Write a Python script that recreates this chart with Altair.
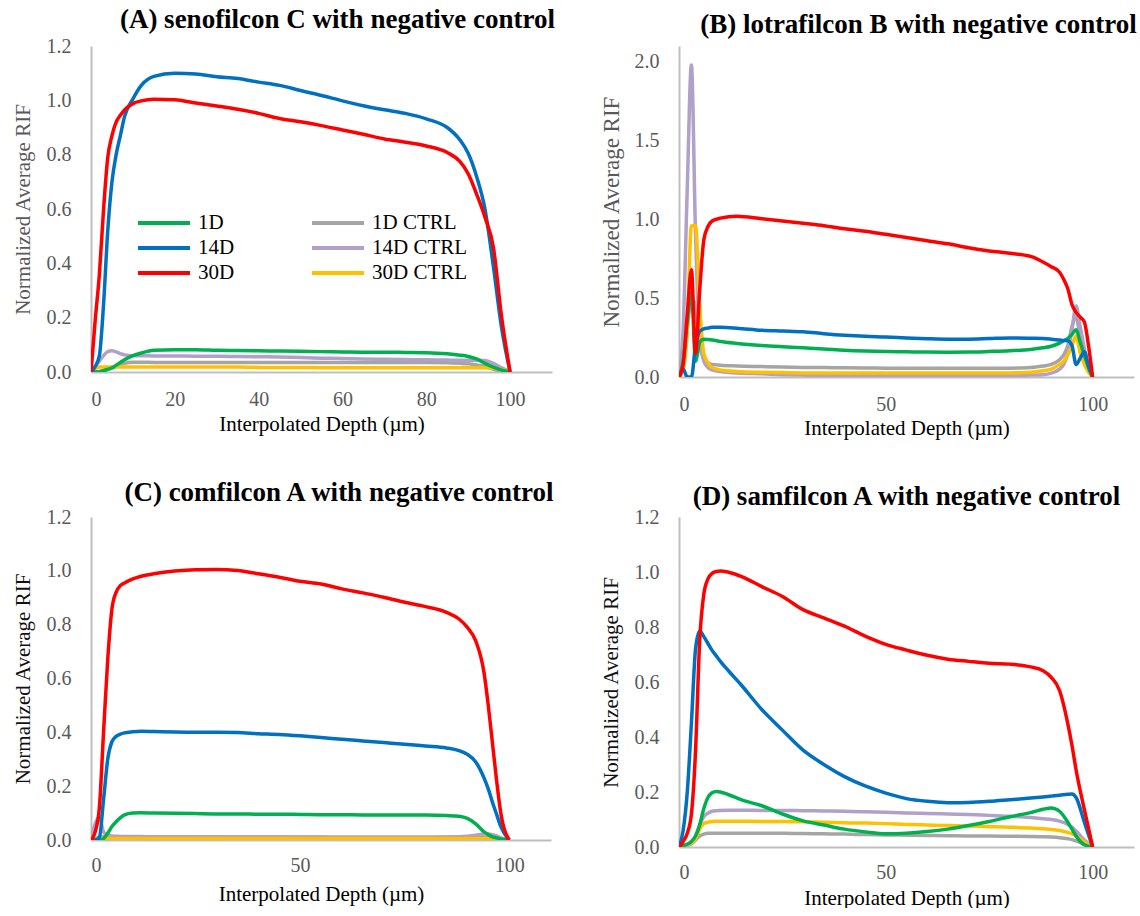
import altair as alt
import pandas as pd

FONT = "Liberation Serif, Times New Roman, serif"

# ---- series names / colours -------------------------------------------------
LEGEND_ORDER = ["1D", "14D", "30D", "1D CTRL", "14D CTRL", "30D CTRL"]
LEGEND_COLORS = ["#00B050", "#0070C0", "#FF0000", "#A5A5A5", "#B1A0C7", "#FFC000"]
DRAW_ORDER = ["1D CTRL", "14D CTRL", "30D CTRL", "1D", "14D", "30D"]

# ---- (A) senofilcon C --------------------------------------------------------
A_DEPTH = [0, 1, 2, 3, 4, 5, 6, 7, 8, 10, 12, 15, 20, 25, 30, 35, 40, 45, 50, 55,
           60, 65, 70, 75, 80, 85, 88, 90, 92, 94, 96, 98, 100]
A_1D = [0, 0, 0, 0.005, 0.01, 0.015, 0.025, 0.035, 0.045, 0.06, 0.07, 0.08, 0.082,
        0.082, 0.08, 0.079, 0.078, 0.077, 0.076, 0.075, 0.074, 0.073, 0.073, 0.072,
        0.071, 0.067, 0.062, 0.057, 0.048, 0.032, 0.018, 0.007, 0]
A_14D = [0, 0.02, 0.06, 0.25, 0.52, 0.7, 0.8, 0.87, 0.94, 1.005, 1.055, 1.088, 1.1,
         1.097, 1.087, 1.08, 1.067, 1.055, 1.036, 1.018, 0.998, 0.98, 0.965, 0.952,
         0.932, 0.9, 0.855, 0.805, 0.72, 0.6, 0.39, 0.16, 0]
A_30D = [0, 0.19, 0.36, 0.6, 0.79, 0.87, 0.92, 0.945, 0.965, 0.988, 0.998, 1.004,
         1.002, 0.99, 0.979, 0.967, 0.952, 0.933, 0.921, 0.907, 0.891, 0.875, 0.858,
         0.846, 0.832, 0.808, 0.775, 0.73, 0.655, 0.57, 0.46, 0.2, 0]
A_1D_CTRL = [0, 0, 0.003, 0.006, 0.01, 0.015, 0.02, 0.026, 0.032, 0.036, 0.036, 0.035,
             0.035, 0.035, 0.035, 0.035, 0.035, 0.035, 0.035, 0.035, 0.035, 0.035,
             0.035, 0.035, 0.035, 0.034, 0.032, 0.03, 0.026, 0.02, 0.01, 0.004, 0]
A_14D_CTRL = [0.005, 0.02, 0.04, 0.06, 0.075, 0.078, 0.074, 0.068, 0.063, 0.06, 0.06,
              0.059, 0.059, 0.058, 0.058, 0.057, 0.056, 0.055, 0.053, 0.051, 0.05,
              0.048, 0.047, 0.046, 0.045, 0.044, 0.043, 0.043, 0.043, 0.042, 0.032,
              0.015, 0]
A_30D_CTRL = [0, 0.012, 0.018, 0.018, 0.018, 0.018, 0.018, 0.018, 0.018, 0.018, 0.018,
              0.018, 0.018, 0.018, 0.018, 0.018, 0.017, 0.017, 0.017, 0.016, 0.016,
              0.016, 0.016, 0.016, 0.016, 0.016, 0.016, 0.016, 0.016, 0.016, 0.014,
              0.008, 0]

# ---- (B) lotrafilcon B -------------------------------------------------------
B_DEPTH = [0, 1, 2, 3, 4, 5, 6, 7, 8, 10, 14, 20, 25, 30, 35, 40, 45, 50, 55, 60, 65,
           70, 75, 80, 85, 88, 90, 92, 93, 94, 95, 96, 97, 98, 99, 100]
B_1D = [0, 0.1, 0.35, 0.54, 0.1, 0.22, 0.24, 0.238, 0.235, 0.225, 0.213, 0.2, 0.192,
        0.185, 0.178, 0.17, 0.165, 0.162, 0.16, 0.158, 0.157, 0.158, 0.162, 0.167,
        0.175, 0.185, 0.195, 0.215, 0.23, 0.245, 0.27, 0.3, 0.22, 0.14, 0.06, 0]
B_14D = [0, 0.05, 0, 0, 0.2, 0.29, 0.305, 0.31, 0.315, 0.315, 0.31, 0.297, 0.292,
         0.287, 0.275, 0.265, 0.258, 0.254, 0.248, 0.243, 0.24, 0.24, 0.244, 0.248,
         0.246, 0.244, 0.24, 0.235, 0.232, 0.23, 0.2, 0.08, 0.12, 0.16, 0.07, 0]
B_30D = [0, 0.08, 0.4, 0.68, 0.15, 0.55, 0.87, 0.955, 0.99, 1.008, 1.02, 1.004, 0.99,
         0.975, 0.96, 0.94, 0.925, 0.905, 0.885, 0.865, 0.845, 0.82, 0.8, 0.785,
         0.765, 0.73, 0.7, 0.665, 0.62, 0.56, 0.46, 0.41, 0.38, 0.35, 0.2, 0]
B_1D_CTRL = [0, 0.08, 0.3, 0.5, 0.45, 0.2, 0.12, 0.09, 0.08, 0.075, 0.07, 0.066, 0.063,
             0.061, 0.06, 0.058, 0.057, 0.056, 0.055, 0.055, 0.055, 0.055, 0.055,
             0.056, 0.06, 0.07, 0.08, 0.11, 0.14, 0.2, 0.32, 0.38, 0.25, 0.12, 0.05, 0]
B_14D_CTRL = [0, 0.3, 1.2, 1.98, 0.9, 0.25, 0.1, 0.06, 0.045, 0.035, 0.025, 0.02, 0.015,
              0.012, 0.01, 0.01, 0.01, 0.01, 0.01, 0.01, 0.01, 0.01, 0.01, 0.01, 0.012,
              0.015, 0.025, 0.05, 0.08, 0.15, 0.3, 0.45, 0.32, 0.18, 0.07, 0]
B_30D_CTRL = [0, 0.05, 0.3, 0.96, 0.96, 0.45, 0.15, 0.09, 0.06, 0.045, 0.035, 0.03,
              0.028, 0.026, 0.025, 0.025, 0.025, 0.025, 0.025, 0.025, 0.025, 0.025,
              0.025, 0.026, 0.03, 0.04, 0.05, 0.08, 0.1, 0.14, 0.2, 0.26, 0.15, 0.08,
              0.03, 0]

# ---- (C) comfilcon A ---------------------------------------------------------
C_DEPTH = [0, 1, 2, 3, 4, 5, 6, 7, 8, 10, 12, 15, 20, 25, 30, 35, 40, 45, 50, 55, 60,
           65, 70, 75, 80, 85, 88, 90, 92, 94, 95, 96, 97, 98, 100]
C_1D = [0, 0, 0, 0.005, 0.025, 0.05, 0.068, 0.082, 0.093, 0.1, 0.101, 0.1, 0.099,
        0.098, 0.097, 0.097, 0.096, 0.096, 0.095, 0.094, 0.094, 0.093, 0.093, 0.093,
        0.093, 0.091, 0.088, 0.08, 0.06, 0.03, 0.02, 0.012, 0.008, 0.004, 0]
C_14D = [0, 0, 0.01, 0.15, 0.3, 0.365, 0.385, 0.393, 0.398, 0.402, 0.404, 0.403, 0.401,
         0.4, 0.4, 0.399, 0.395, 0.392, 0.387, 0.381, 0.374, 0.368, 0.362, 0.356,
         0.349, 0.342, 0.332, 0.318, 0.29, 0.23, 0.19, 0.14, 0.095, 0.05, 0]
C_30D = [0, 0.03, 0.12, 0.4, 0.67, 0.858, 0.92, 0.945, 0.955, 0.97, 0.98, 0.989,
         0.999, 1.004, 1.005, 1.001, 0.989, 0.976, 0.961, 0.951, 0.933, 0.918, 0.902,
         0.883, 0.867, 0.846, 0.821, 0.79, 0.74, 0.62, 0.5, 0.36, 0.22, 0.1, 0]
C_1D_CTRL = [0, 0.005, 0.01, 0.012, 0.012, 0.012, 0.012, 0.012, 0.012, 0.012, 0.012,
             0.012, 0.011, 0.011, 0.011, 0.011, 0.011, 0.011, 0.01, 0.01, 0.01, 0.01,
             0.01, 0.01, 0.01, 0.01, 0.01, 0.01, 0.01, 0.01, 0.01, 0.008, 0.006,
             0.004, 0]
C_14D_CTRL = [0, 0.06, 0.085, 0.03, 0.018, 0.015, 0.014, 0.013, 0.013, 0.013, 0.013,
              0.012, 0.012, 0.012, 0.012, 0.011, 0.011, 0.011, 0.011, 0.011, 0.01,
              0.01, 0.01, 0.01, 0.01, 0.011, 0.012, 0.014, 0.018, 0.022, 0.022, 0.02,
              0.015, 0.008, 0]
C_30D_CTRL = [0, 0.003, 0.005, 0.006, 0.006, 0.006, 0.006, 0.006, 0.006, 0.006, 0.006,
              0.006, 0.006, 0.006, 0.006, 0.006, 0.006, 0.006, 0.006, 0.006, 0.006,
              0.006, 0.006, 0.006, 0.006, 0.006, 0.006, 0.006, 0.006, 0.006, 0.006,
              0.005, 0.004, 0.003, 0]

# ---- (D) samfilcon A ---------------------------------------------------------
D_DEPTH = [0, 1, 2, 3, 4, 5, 6, 7, 8, 9, 10, 12, 15, 20, 25, 30, 35, 40, 45, 50, 55,
           60, 65, 70, 75, 80, 85, 88, 90, 92, 94, 95, 96, 98, 100]
D_1D = [0, 0.005, 0.01, 0.02, 0.04, 0.08, 0.14, 0.18, 0.197, 0.202, 0.2, 0.19, 0.172,
        0.15, 0.12, 0.095, 0.08, 0.065, 0.055, 0.048, 0.05, 0.056, 0.065, 0.078,
        0.093, 0.11, 0.125, 0.137, 0.142, 0.13, 0.09, 0.065, 0.04, 0.008, 0]
D_14D = [0, 0.06, 0.2, 0.45, 0.72, 0.785, 0.765, 0.74, 0.715, 0.695, 0.675, 0.64, 0.59,
         0.5, 0.425, 0.352, 0.3, 0.256, 0.222, 0.196, 0.176, 0.166, 0.161, 0.162,
         0.166, 0.172, 0.178, 0.182, 0.185, 0.188, 0.192, 0.193, 0.18, 0.09, 0]
D_30D = [0, 0.02, 0.05, 0.12, 0.35, 0.75, 0.92, 0.975, 0.995, 1.002, 1.004, 0.999,
         0.984, 0.947, 0.911, 0.863, 0.833, 0.803, 0.767, 0.737, 0.716, 0.697, 0.683,
         0.675, 0.668, 0.665, 0.655, 0.641, 0.617, 0.569, 0.448, 0.37, 0.28, 0.136, 0]
D_1D_CTRL = [0, 0.003, 0.006, 0.012, 0.025, 0.04, 0.047, 0.05, 0.05, 0.05, 0.05, 0.05,
             0.05, 0.05, 0.05, 0.049, 0.048, 0.047, 0.045, 0.044, 0.043, 0.042, 0.041,
             0.04, 0.04, 0.039, 0.038, 0.037, 0.036, 0.034, 0.03, 0.027, 0.022, 0.01, 0]
D_14D_CTRL = [0, 0.005, 0.01, 0.02, 0.04, 0.08, 0.11, 0.123, 0.13, 0.132, 0.133, 0.134,
              0.134, 0.133, 0.133, 0.132, 0.131, 0.13, 0.128, 0.126, 0.124, 0.122,
              0.12, 0.118, 0.115, 0.112, 0.107, 0.103, 0.1, 0.094, 0.082, 0.072,
              0.058, 0.025, 0]
D_30D_CTRL = [0, 0.004, 0.008, 0.015, 0.03, 0.065, 0.085, 0.09, 0.093, 0.094, 0.094,
              0.094, 0.094, 0.093, 0.093, 0.092, 0.09, 0.088, 0.087, 0.085, 0.082,
              0.08, 0.078, 0.076, 0.074, 0.072, 0.069, 0.066, 0.064, 0.06, 0.053,
              0.048, 0.04, 0.018, 0]

X_TITLE = "Interpolated Depth (\u00b5m)"
Y_TITLE = "Normalized Average RIF"


def make_df(depth, series):
    rows = []
    for name in DRAW_ORDER:
        vals = series[name]
        n = min(len(depth), len(vals))
        for d, v in zip(depth[:n], vals[:n]):
            rows.append({"depth": d, "rif": v, "series": name})
    return pd.DataFrame(rows)


def panel(depth, series, title, title_dx, title_offset, ymax, yticks, xticks,
          width, height, ytitle_color, ytitle_size, ytitle_pad, xlab_pad,
          xtitle_pad, legend):
    df = make_df(depth, series)
    cscale = alt.Scale(domain=LEGEND_ORDER, range=LEGEND_COLORS)
    x = alt.X("depth:Q",
              scale=alt.Scale(domain=[0, 110], nice=False),
              axis=alt.Axis(values=xticks, title=X_TITLE, labelPadding=xlab_pad,
                            titlePadding=xtitle_pad, format="d",
                            labelFont=FONT, titleFont=FONT))
    y = alt.Y("rif:Q",
              scale=alt.Scale(domain=[0, ymax], nice=False),
              axis=alt.Axis(values=yticks, format=".1f", title=Y_TITLE,
                            titleColor=ytitle_color, titleFontSize=ytitle_size,
                            titlePadding=ytitle_pad, labelPadding=20,
                            labelFont=FONT, titleFont=FONT))
    layers = []
    for name in DRAW_ORDER:
        layers.append(
            alt.Chart(df)
            .transform_filter(alt.datum.series == name)
            .mark_line(strokeWidth=3.5, interpolate="monotone", clip=True)
            .encode(x=x, y=y,
                    color=alt.Color("series:N", scale=cscale, legend=legend))
        )
    return alt.layer(*layers).properties(
        width=width, height=height,
        title=alt.TitleParams(title, font=FONT, fontSize=27, fontWeight="bold",
                              color="black", anchor="middle", frame="group",
                              dx=title_dx, offset=title_offset),
    )


legend_a = alt.Legend(orient="none", legendX=61, legendY=165, columns=2,
                      symbolType="M-2.6,0L2.6,0", symbolSize=400,
                      symbolStrokeWidth=4, labelFont=FONT, labelFontSize=21,
                      labelColor="black", title=None, columnPadding=69,
                      rowPadding=3, labelOffset=22)

pA = panel(A_DEPTH, {"1D": A_1D, "14D": A_14D, "30D": A_30D, "1D CTRL": A_1D_CTRL,
                     "14D CTRL": A_14D_CTRL, "30D CTRL": A_30D_CTRL},
           "(A) senofilcon C with negative control", 16, 2, 1.2,
           [0, 0.2, 0.4, 0.6, 0.8, 1.0, 1.2], [0, 20, 40, 60, 80, 100],
           461, 326, "#595959", 21, 13, 17, 4, legend_a)
pB = panel(B_DEPTH, {"1D": B_1D, "14D": B_14D, "30D": B_30D, "1D CTRL": B_1D_CTRL,
                     "14D CTRL": B_14D_CTRL, "30D CTRL": B_30D_CTRL},
           "(B) lotrafilcon B with negative control", 12, 7, 2.1,
           [0, 0.5, 1.0, 1.5, 2.0], [0, 50, 100],
           455, 331, "#595959", 23, 11, 17, 3, None)
pC = panel(C_DEPTH, {"1D": C_1D, "14D": C_14D, "30D": C_30D, "1D CTRL": C_1D_CTRL,
                     "14D CTRL": C_14D_CTRL, "30D CTRL": C_30D_CTRL},
           "(C) comfilcon A with negative control", 18, 0, 1.2,
           [0, 0.2, 0.4, 0.6, 0.8, 1.0, 1.2], [0, 50, 100],
           460, 323, "#111111", 21, 13, 15, 8, None)
pD = panel(D_DEPTH, {"1D": D_1D, "14D": D_14D, "30D": D_30D, "1D CTRL": D_1D_CTRL,
                     "14D CTRL": D_14D_CTRL, "30D CTRL": D_30D_CTRL},
           "(D) samfilcon A with negative control", 0, -4, 1.2,
           [0, 0.2, 0.4, 0.6, 0.8, 1.0, 1.2], [0, 50, 100],
           455, 330, "#111111", 21, 13, 15, 5, None)

chart = (
    alt.concat(pA, pB, pC, pD, columns=2, align="each",
               spacing={"row": 41, "column": 44})
    .resolve_scale(color="independent")
    .properties(padding={"left": 12, "top": 6, "right": 0, "bottom": 0},
                background="white")
    .configure_view(stroke=None)
    .configure_axis(domainColor="#BFBFBF", domainWidth=2, ticks=False, tickSize=0,
                    grid=False, labelFont=FONT, labelFontSize=20,
                    labelColor="#595959", titleFont=FONT, titleFontSize=21,
                    titleFontWeight="normal", titleColor="black")
)

chart.save("out.html", embed_options={"renderer": "svg", "actions": False})
